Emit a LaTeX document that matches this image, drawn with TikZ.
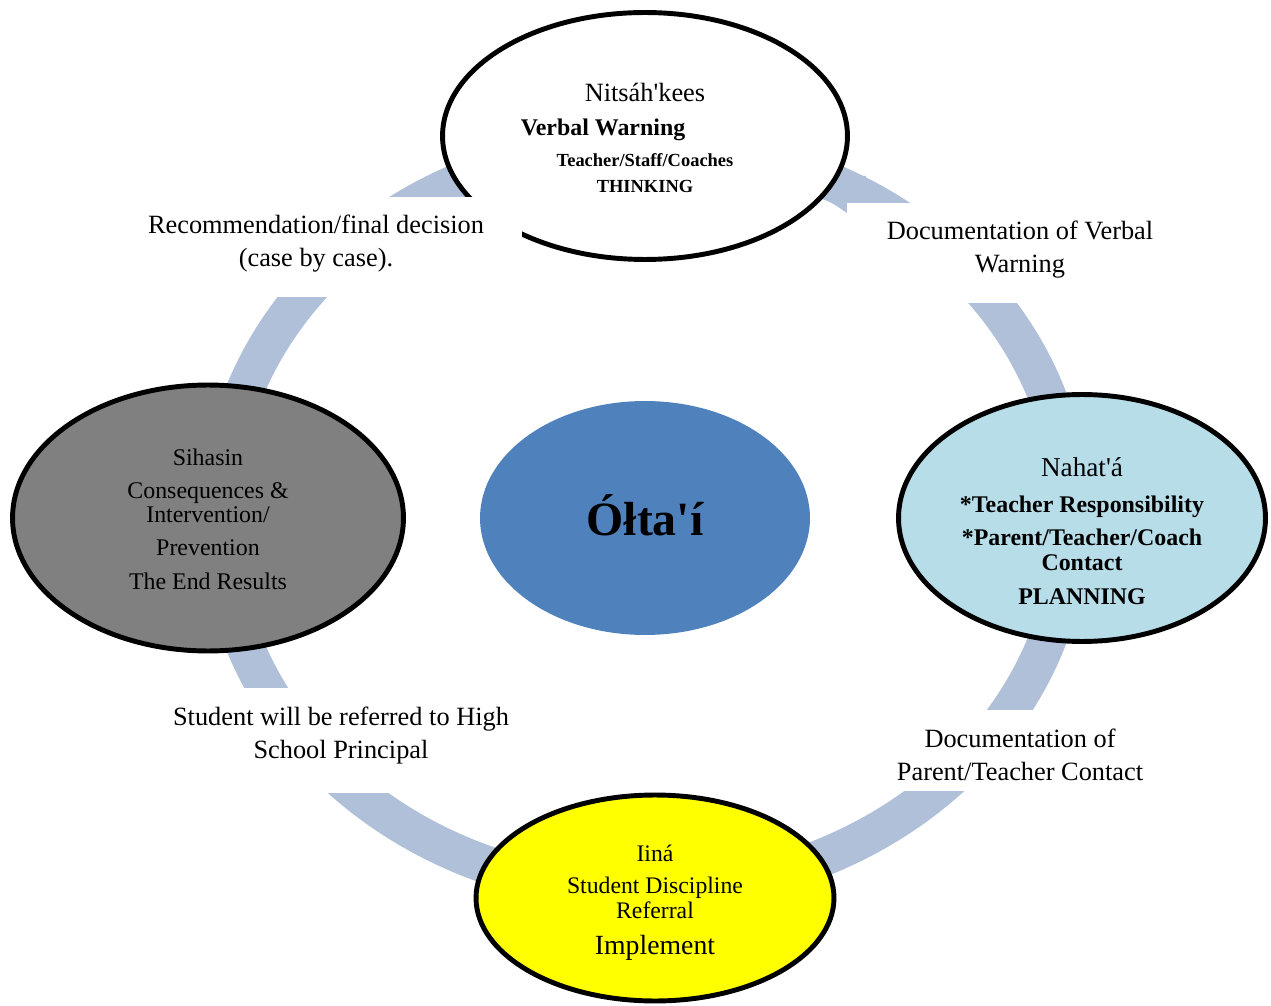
\documentclass[tikz,border=0pt]{standalone}
\usepackage{fontspec}
\setmainfont{Liberation Serif}
\usetikzlibrary{shapes.geometric,calc}
\definecolor{ringblue}{RGB}{176,192,217}
\definecolor{planblue}{RGB}{183,221,232}
\definecolor{hubblue}{RGB}{79,129,189}
\definecolor{implyellow}{RGB}{255,255,0}
\begin{document}
\begin{tikzpicture}[x=0.02cm,y=-0.02cm,
    oval/.style={ellipse,draw=black,line width=2.8pt,inner sep=0pt},
    steptxt/.style={align=center,inner sep=0pt},
    lbl/.style={align=center,inner sep=0pt,font=\fontsize{15}{18.8}\selectfont}]
  \useasboundingbox (0,0) rectangle (1271,1006);
  % ring of arrows
  \draw[ringblue,line width=21.6pt] (645,518) ellipse [x radius=425.5,y radius=373.5];
  \fill[ringblue] (866,176) -- (847,213) -- (790,175) -- cycle;

  % the four steps and the hub
  \node[oval,fill=white,minimum width=8.1cm,minimum height=4.94cm] (think) at (645,136) {};
  \node[oval,fill=planblue,minimum width=7.34cm,minimum height=4.94cm] (plan) at (1082,518) {};
  \node[oval,fill=implyellow,minimum width=7.16cm,minimum height=4.12cm] (impl) at (655,898) {};
  \node[oval,fill=black!50,minimum width=7.82cm,minimum height=5.32cm] (result) at (208,518) {};
  \node[ellipse,fill=hubblue,inner sep=0pt,minimum width=6.6cm,minimum height=4.68cm] (hub) at (645,518) {};
  \node[font=\bfseries\fontsize{27.2}{30}\selectfont,inner sep=0pt] (hubTxt) at ($(hub.center)+(0,-3)$) {Ółta\textquotesingle í};

  \node[steptxt,font=\bfseries\fontsize{10.5}{14.8}\selectfont] (thinkTxt) at ($(think.center)+(0,2)$)
    {{\mdseries\fontsize{15}{14.8}\selectfont Nitsáh\textquotesingle kees}\\[4.5pt]
     {\fontsize{13.6}{14.8}\selectfont Verbal Warning}\rule{1.68cm}{0pt}\\[2.6pt]
     Teacher/Staff/Coaches\\
     THINKING};
  \node[steptxt,font=\bfseries\fontsize{13.6}{14.2}\selectfont] (planTxt) at ($(plan.center)+(0,13)$)
    {{\mdseries\fontsize{15.5}{14.2}\selectfont Nahat\textquotesingle á}\\[6.3pt]
     *Teacher Responsibility\\[4.5pt]
     *Parent/Teacher/Coach\\
     Contact\\[5.1pt]
     PLANNING};
  \node[steptxt,font=\fontsize{13.5}{14.2}\selectfont] (implTxt) at ($(impl.center)+(0,5)$)
    {Iiná\\[4pt]
     Student Discipline\\
     Referral\\[6.3pt]
     {\fontsize{15.8}{14.2}\selectfont Implement}};
  \node[steptxt,font=\fontsize{13.6}{13.7}\selectfont] (resultTxt) at ($(result.center)+(0,1)$)
    {Sihasin\\[5.1pt]
     Consequences \&\\
     Intervention/\\[5.1pt]
     Prevention\\[5.6pt]
     The End Results};

  % white boxes behind the labels
  \fill[white] (140,197) rectangle (522,297);
  \fill[white] (847,203) rectangle (1190,303);
  \fill[white] (160,688) rectangle (525,793);
  \fill[white] (878,710) rectangle (1160,791);

  % labels on the ring
  \node[lbl] (decide) at (316,244) {Recommendation/final decision\\(case by case).};
  \node[lbl] (docVerbal) at (1020,250) {Documentation of Verbal\\Warning};
  \node[lbl] (refer) at (341,736) {Student will be referred to High\\School Principal};
  \node[lbl] (docParent) at (1020,755) {Documentation of\\Parent/Teacher Contact};
\end{tikzpicture}
\end{document}
